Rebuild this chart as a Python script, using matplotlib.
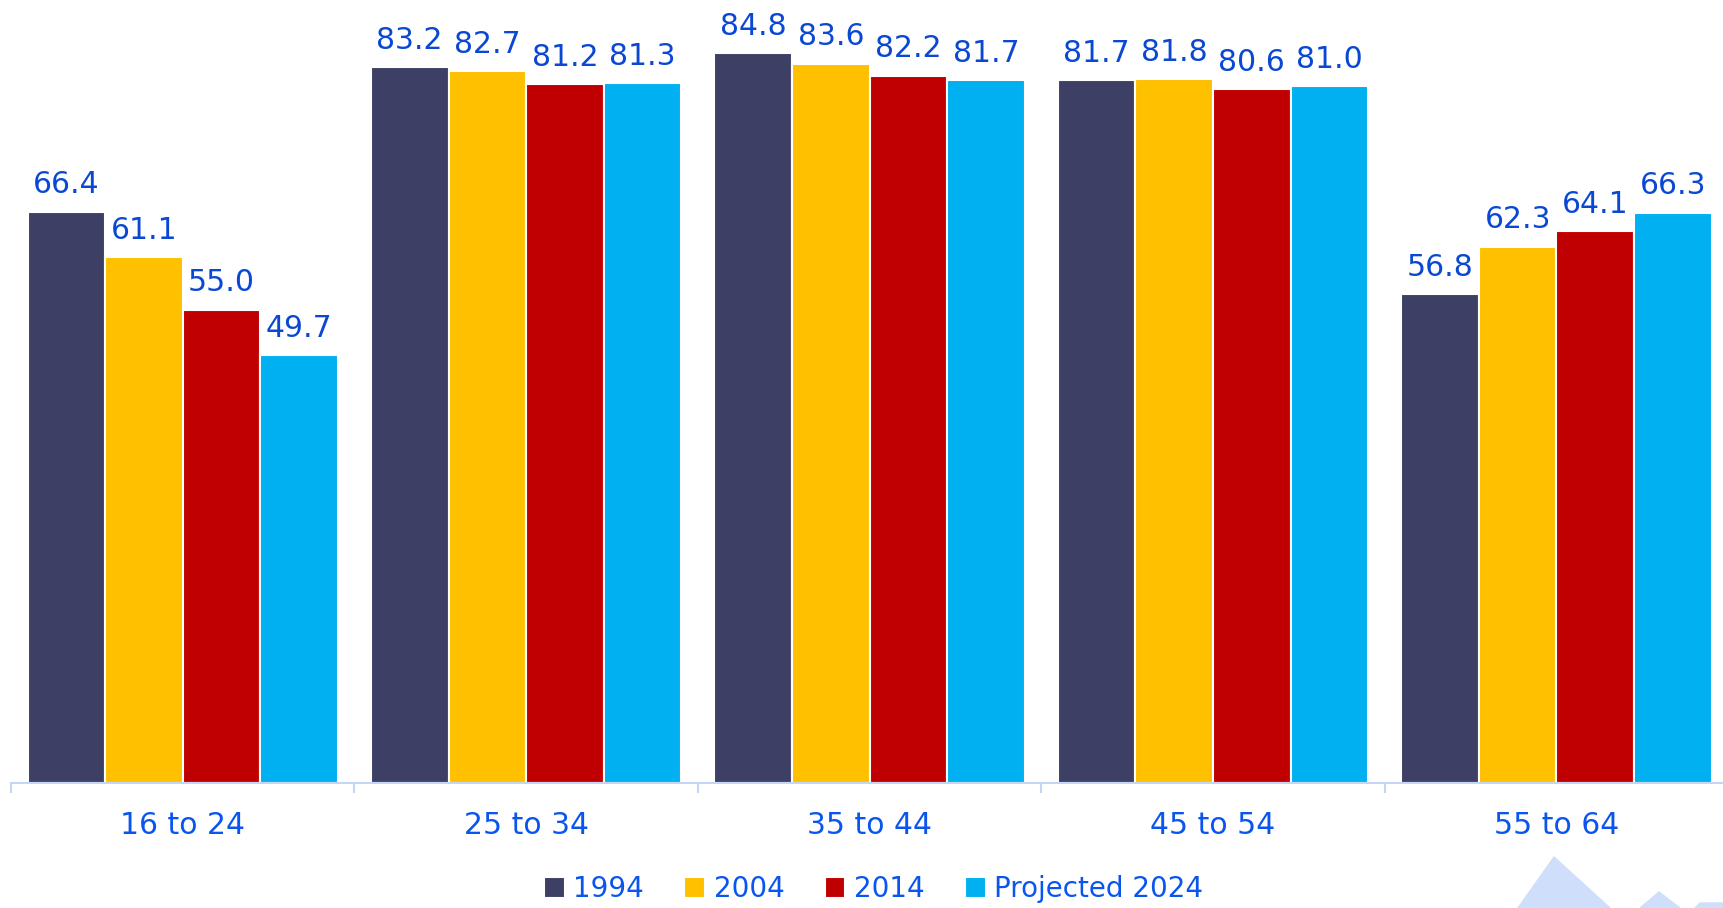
import numpy as np
import matplotlib.pyplot as plt
from matplotlib.patches import Polygon

# age groups and participation rates (%)
groups = ['16 to 24', '25 to 34', '35 to 44', '45 to 54', '55 to 64']
series = ['1994', '2004', '2014', 'Projected 2024']
v1994 = [66.4, 83.2, 84.8, 81.7, 56.8]
v2004 = [61.1, 82.7, 83.6, 81.8, 62.3]
v2014 = [55.0, 81.2, 82.2, 80.6, 64.1]
v2024 = [49.7, 81.3, 81.7, 81.0, 66.3]
colors = ['#3d3f65', '#ffc000', '#c00000', '#00b0f0']

label_blue = '#0a48d4'
tick_blue = '#0a55ee'

plt.rcParams['font.family'] = ['DejaVu Sans']

fig = plt.figure(figsize=(17.23, 9.08), dpi=100)
ax = fig.add_axes([0.0064, 0.1377, 0.9966, 0.8623])

# light background triangles (decoration, bottom right)
fig.patches.append(Polygon([(1518 / 1723, 0), (1554 / 1723, 1 - 857 / 908), (1610 / 1723, 0)],
                           closed=True, transform=fig.transFigure, color='#cfdefa', zorder=0))
fig.patches.append(Polygon([(1640 / 1723, 0), (1659 / 1723, 1 - 892 / 908), (1680 / 1723, 0)],
                           closed=True, transform=fig.transFigure, color='#cfdefa', zorder=0))
fig.patches.append(Polygon([(1695 / 1723, 0), (1700 / 1723, 1 - 903 / 908), (1723 / 1723, 1 - 903 / 908), (1723 / 1723, 0)],
                           closed=True, transform=fig.transFigure, color='#cfdefa', zorder=0))

x = np.arange(len(groups))
w = 0.226
data = [v1994, v2004, v2014, v2024]
for i, vals in enumerate(data):
    pos = x + (i - 1.5) * w
    bars = ax.bar(pos, vals, width=w, color=colors[i], edgecolor='white',
                  linewidth=1.5, label=series[i], zorder=2)
    for b, v in zip(bars, vals):
        ax.annotate(f'{v:.1f}', (b.get_x() + b.get_width() / 2, v),
                    xytext=(0, 9), textcoords='offset points',
                    ha='center', va='bottom', fontsize=21.5, color=label_blue)

ax.set_xlim(-0.5, len(groups) - 0.5)
ax.set_ylim(0, 91.0)
ax.set_yticks([])
for s in ['top', 'right', 'left']:
    ax.spines[s].set_visible(False)
ax.spines['bottom'].set_color('#c5d5f5')
ax.spines['bottom'].set_linewidth(1.5)

ax.set_xticks(x)
ax.set_xticklabels(groups, fontsize=21.5, color=tick_blue)
ax.tick_params(axis='x', which='major', length=0, pad=20)
ax.set_xticks(np.arange(len(groups) + 1) - 0.5, minor=True)
ax.tick_params(axis='x', which='minor', length=7, width=1.5, color='#c5d5f5')

leg = fig.legend(loc='center', bbox_to_anchor=(0.507, 0.021), ncol=4, frameon=False,
                 fontsize=20, handlelength=0.75, handleheight=0.8,
                 handletextpad=0.3, columnspacing=1.45)
for t in leg.get_texts():
    t.set_color(tick_blue)

fig.savefig('out.png', dpi=100)
